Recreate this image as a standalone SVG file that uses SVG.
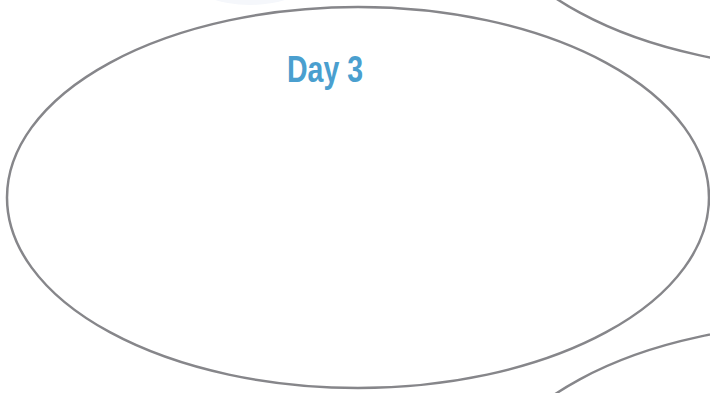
<svg xmlns="http://www.w3.org/2000/svg" width="710" height="393" viewBox="0 0 710 393">
<style>
.oval{fill:none;stroke:#86868a;stroke-width:2.5}
.title{font-family:"Liberation Sans",Arial,sans-serif;font-weight:bold;font-size:37px;fill:#4a9fcf}
</style>
<rect width="710" height="393" fill="#ffffff"/>
<g id="faint-node">
<ellipse cx="250" cy="-20" rx="58" ry="25" fill="#f5f7fb"/>
</g>
<g id="node-top-right">
<ellipse class="oval" cx="828" cy="-122" rx="351" ry="190.5"/>
</g>
<g id="node-bottom-right">
<ellipse class="oval" cx="828" cy="514" rx="351" ry="190.5"/>
</g>
<g id="node-day3">
<ellipse class="oval" cx="358" cy="197.5" rx="351" ry="190.5"/>
<text class="title" x="287" y="82" textLength="76" lengthAdjust="spacingAndGlyphs">Day 3</text>
</g>
<g id="connectors"></g>
</svg>
